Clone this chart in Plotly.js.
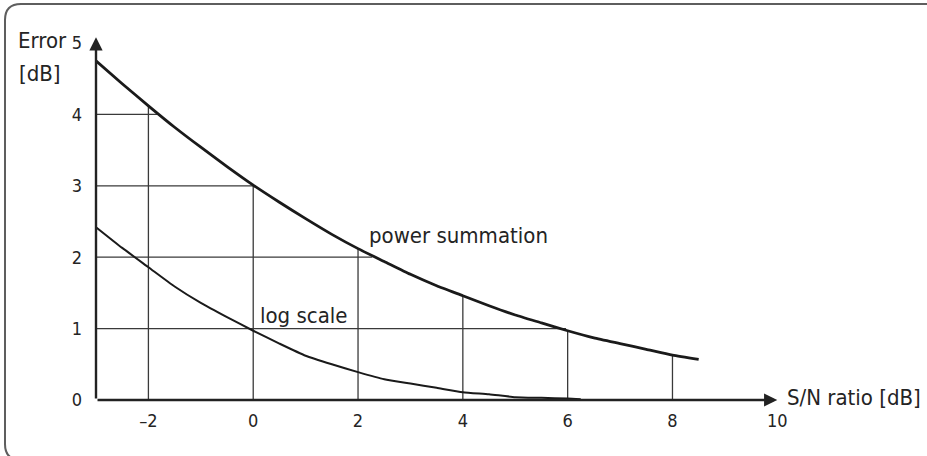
<!DOCTYPE html>
<html>
<head>
<meta charset="utf-8">
<script src="https://cdn.plot.ly/plotly-3.0.1.min.js"></script>
<style>html,body{margin:0;padding:0;background:#fff;}#chart{width:927px;height:456px;}</style>
</head>
<body>
<div id="chart"></div>
<script>
// ---- data ----
const powerX = [-3,-2.5,-2,-1.5,-1,-0.5,0,0.5,1,1.5,2,2.5,3,3.5,4,4.5,5,5.5,6,6.5,7,7.5,8,8.5];
const powerY = [4.75,4.43,4.12,3.82,3.54,3.27,3.01,2.77,2.54,2.32,2.12,1.94,1.76,1.60,1.46,1.32,1.19,1.08,0.97,0.87,0.79,0.71,0.63,0.57];
const logX = [-3,-2.5,-2,-1.5,-1,-0.5,0,0.5,1,1.5,2,2.5,3,3.5,4,4.5,5,5.5,6,6.25];
const logY = [2.42,2.13,1.86,1.59,1.36,1.16,0.97,0.79,0.62,0.50,0.39,0.29,0.23,0.17,0.11,0.08,0.04,0.03,0.02,0.01];
// vertical drop lines: x position and height where they meet the power curve
const dropX = [-2,0,2,4,6,8];
const dropTop = [4.13,3.01,2.12,1.46,0.98,0.63];
// horizontal lines: y level and x where they meet the power curve
const levelY = [1,2,3,4];
const levelEnd = [5.97,2.27,0.0,-1.82];
const xTickVals = [-2,0,2,4,6,8,10];
const xTickText = ['\u20132','0','2','4','6','8','10'];
const yTickVals = [0,1,2,3,4,5];
const yTickText = ['0','1','2','3','4','5'];

const W = 927, H = 456;
const M = {l:96, r:134, t:29, b:56};
const XR = [-3, 10.3], YR = [0, 5.196];
const pw = W - M.l - M.r, ph = H - M.t - M.b;
const px2paperX = p => (p - M.l) / pw;
const px2paperY = p => (H - M.b - p) / ph;

const FONT = '"DejaVu Sans Condensed", "Liberation Sans Narrow", sans-serif';
const TXT = '#242424';
const LBL = 22, TICK = 18;

// build grid segments
const gx = [], gy = [];
dropX.forEach((x,i) => { gx.push(x, x, null); gy.push(0, dropTop[i], null); });
levelY.forEach((y,i) => { gx.push(XR[0], levelEnd[i], null); gy.push(y, y, null); });

const traces = [
  {x: gx, y: gy, mode:'lines', line:{color:'#3a3a3a', width:1.3}, hoverinfo:'skip', showlegend:false},
  {x: logX, y: logY, mode:'lines', line:{color:'#1a1a1a', width:2, shape:'spline', smoothing:0.5}, showlegend:false},
  {x: powerX, y: powerY, mode:'lines', line:{color:'#1a1a1a', width:2.8, shape:'spline', smoothing:0.5}, showlegend:false}
];

// rounded frame path in paper coords
const fp = (x,y) => px2paperX(x).toFixed(5) + ',' + px2paperY(y).toFixed(5);
const framePath = 'M' + fp(930,4) + ' L' + fp(21,4) + ' Q' + fp(5,4) + ' ' + fp(5,20) +
  ' L' + fp(5,444) + ' Q' + fp(5,460) + ' ' + fp(21,460) + ' L' + fp(930,460);

const layout = {
  width: W, height: H,
  margin: M,
  paper_bgcolor:'#fff', plot_bgcolor:'#fff',
  showlegend:false,
  font:{family:FONT, color:TXT, size:TICK},
  xaxis:{range:XR, showgrid:false, zeroline:false, showline:false, ticks:'',
    tickvals:xTickVals, ticktext:xTickText, tickfont:{size:TICK, family:FONT, color:TXT},
    ticklabelstandoff:8, fixedrange:true},
  yaxis:{range:YR, showgrid:false, zeroline:false, showline:false, ticks:'',
    tickvals:yTickVals, ticktext:yTickText, tickfont:{size:TICK, family:FONT, color:TXT},
    ticklabelstandoff:13, fixedrange:true},
  shapes:[
    {type:'path', xref:'paper', yref:'paper', path:framePath, line:{color:'#5e5e5e', width:2}}
  ],
  annotations:[
    {x:10, y:0, ax:-3, ay:0, xref:'x', yref:'y', axref:'x', ayref:'y', text:'', showarrow:true,
     arrowhead:2, arrowsize:1.1, arrowwidth:2.4, arrowcolor:'#222', standoff:0, startstandoff:0},
    {x:-3, y:5.08, ax:-3, ay:0, xref:'x', yref:'y', axref:'x', ayref:'y', text:'', showarrow:true,
     arrowhead:2, arrowsize:1.1, arrowwidth:2.4, arrowcolor:'#222', standoff:0, startstandoff:0},
    {x:px2paperX(16), y:5, xref:'paper', yref:'y', xanchor:'left', yanchor:'middle', yshift:2,
     text:'Error', showarrow:false, font:{size:LBL, family:FONT, color:TXT}},
    {x:px2paperX(17), y:4.57, xref:'paper', yref:'y', xanchor:'left', yanchor:'middle',
     text:'[dB]', showarrow:false, font:{size:LBL, family:FONT, color:TXT}},
    {x:2.17, y:2.30, xref:'x', yref:'y', xanchor:'left', yanchor:'middle',
     text:'power summation', showarrow:false, font:{size:LBL, family:FONT, color:TXT}},
    {x:0.09, y:1.18, xref:'x', yref:'y', xanchor:'left', yanchor:'middle',
     text:'log scale', showarrow:false, font:{size:LBL, family:FONT, color:TXT}},
    {x:10.15, y:0.03, xref:'x', yref:'y', xanchor:'left', yanchor:'middle',
     text:'S/N ratio [dB]', showarrow:false, font:{size:LBL, family:FONT, color:TXT}}
  ]
};

Plotly.newPlot('chart', traces, layout, {staticPlot:true, displayModeBar:false});
</script>
</body>
</html>
